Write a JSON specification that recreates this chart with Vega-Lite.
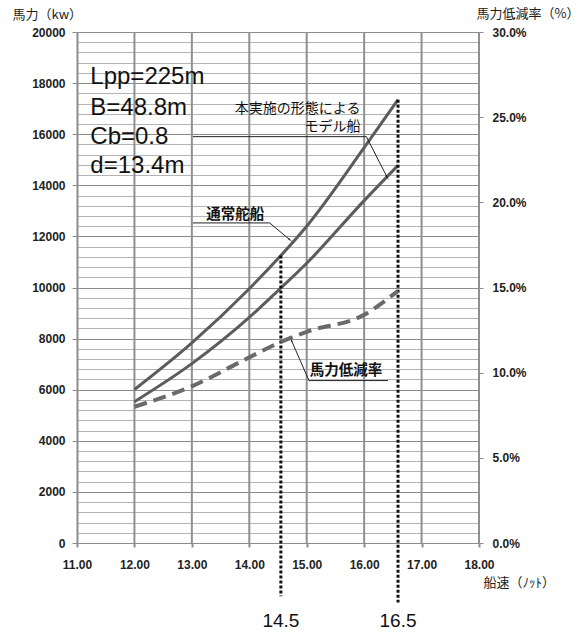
{
  "$schema": "https://vega.github.io/schema/vega-lite/v6.json",
  "width": 402,
  "height": 511,
  "autosize": {"type": "none"},
  "padding": {"left": 77, "top": 32, "right": 107, "bottom": 96},
  "background": "white",
  "config": {
    "view": {"stroke": null},
    "axis": {
      "labelFont": "Liberation Sans",
      "labelFontWeight": "bold",
      "labelFontSize": 12,
      "labelColor": "#222222",
      "titleFont": "Noto Sans CJK JP",
      "titleFontWeight": "normal",
      "titleFontSize": 13,
      "titleColor": "#222222"
    }
  },
  "datasets": {
    "power": [
      {"speed": 12, "kw": 6006, "ship": "通常舵船"},
      {"speed": 13, "kw": 7832, "ship": "通常舵船"},
      {"speed": 14, "kw": 9950, "ship": "通常舵船"},
      {"speed": 14.55, "kw": 11250, "ship": "通常舵船"},
      {"speed": 15, "kw": 12400, "ship": "通常舵船"},
      {"speed": 16, "kw": 15470, "ship": "通常舵船"},
      {"speed": 16.59, "kw": 17351, "ship": "通常舵船"},
      {"speed": 12, "kw": 5530, "ship": "モデル船"},
      {"speed": 13, "kw": 7020, "ship": "モデル船"},
      {"speed": 14, "kw": 8830, "ship": "モデル船"},
      {"speed": 14.55, "kw": 9980, "ship": "モデル船"},
      {"speed": 15, "kw": 10950, "ship": "モデル船"},
      {"speed": 16, "kw": 13400, "ship": "モデル船"},
      {"speed": 16.59, "kw": 14780, "ship": "モデル船"}
    ],
    "rate": [
      {"speed": 12, "rate": 0.080},
      {"speed": 13, "rate": 0.092},
      {"speed": 14, "rate": 0.109},
      {"speed": 14.55, "rate": 0.118},
      {"speed": 15, "rate": 0.124},
      {"speed": 16, "rate": 0.134},
      {"speed": 16.59, "rate": 0.148}
    ],
    "knots": [
      {"speed": 12}, {"speed": 13}, {"speed": 14}, {"speed": 15},
      {"speed": 16}, {"speed": 17}, {"speed": 18}
    ],
    "marks": [
      {"speed": 14.55, "kw": 11250, "kw2": -2080, "label": "14.5", "ly": -3050},
      {"speed": 16.59, "kw": 17351, "kw2": -2330, "label": "16.5", "ly": -3050}
    ],
    "specs": [
      {"speed": 11.232, "kw": 18251, "label": "Lpp=225m"},
      {"speed": 11.232, "kw": 17040, "label": "B=48.8m"},
      {"speed": 11.232, "kw": 15900, "label": "Cb=0.8"},
      {"speed": 11.232, "kw": 14770, "label": "d=13.4m"}
    ],
    "modelText": [
      {"speed": 15.935, "kw": 17000, "label": "本実施の形態による"},
      {"speed": 15.935, "kw": 16268, "label": "モデル船"}
    ],
    "boldText": [
      {"speed": 13.252, "kw": 12852, "label": "通常舵船"},
      {"speed": 15.052, "kw": 6721, "label": "馬力低減率"}
    ],
    "leaders": [
      {"id": "model", "ord": 1, "speed": 13.019, "kw": 15904},
      {"id": "model", "ord": 2, "speed": 16.039, "kw": 15904},
      {"id": "model", "ord": 3, "speed": 16.398, "kw": 14327},
      {"id": "normal", "ord": 1, "speed": 13.019, "kw": 12527},
      {"id": "normal", "ord": 2, "speed": 14.355, "kw": 12527},
      {"id": "normal", "ord": 3, "speed": 14.703, "kw": 11874},
      {"id": "rate", "ord": 1, "speed": 16.416, "kw": 6357},
      {"id": "rate", "ord": 2, "speed": 15.039, "kw": 6357},
      {"id": "rate", "ord": 3, "speed": 14.733, "kw": 7934}
    ],
    "tips": [
      {"id": "model", "speed": 16.398, "kw": 14327},
      {"id": "normal", "speed": 14.703, "kw": 11874},
      {"id": "rate", "speed": 14.733, "kw": 7934}
    ]
  },
  "encoding": {
    "x": {
      "field": "speed",
      "type": "quantitative",
      "scale": {"domain": [11, 18], "nice": false, "zero": false},
      "axis": {
        "values": [11, 12, 13, 14, 15, 16, 17, 18],
        "format": ".2f",
        "title": "船速（ﾉｯﾄ）",
        "titleX": 406,
        "titleY": 39,
        "titleAlign": "left",
        "titleBaseline": "middle",
        "grid": false,
        "labelFlush": false,
        "domainColor": "#8c8c8c",
        "tickColor": "#8c8c8c",
        "tickSize": 4,
        "tickWidth": 2,
        "labelPadding": 12
      }
    }
  },
  "layer": [
    {
      "data": {"name": "knots"},
      "mark": {"type": "rule", "stroke": "#909090", "strokeWidth": 2}
    },
    {
      "encoding": {
        "y": {
          "field": "kw",
          "type": "quantitative",
          "scale": {"domain": [0, 20000], "nice": false},
          "axis": {
            "values": [0,400,800,1200,1600,2000,2400,2800,3200,3600,4000,4400,4800,5200,5600,6000,6400,6800,7200,7600,8000,8400,8800,9200,9600,10000,10400,10800,11200,11600,12000,12400,12800,13200,13600,14000,14400,14800,15200,15600,16000,16400,16800,17200,17600,18000,18400,18800,19200,19600,20000],
            "format": "d",
            "labelExpr": "datum.value % 2000 === 0 ? datum.label : ''",
            "title": "馬力（kw）",
            "titleAngle": 0,
            "titleX": -65,
            "titleY": -18,
            "titleAlign": "left",
            "titleBaseline": "middle",
            "grid": true,
            "gridColor": {"condition": {"test": "datum.value % 2000 === 0", "value": "#8c8c8c"}, "value": "#b4b4b4"},
            "tickOpacity": {"condition": {"test": "datum.value % 2000 === 0", "value": 1}, "value": 0},
            "domainColor": "#8c8c8c",
            "domainWidth": 2,
            "tickColor": "#8c8c8c",
            "tickSize": 5,
            "labelPadding": 7
          }
        }
      },
      "layer": [
        {
          "data": {"name": "power"},
          "mark": {"type": "line", "interpolate": "monotone", "color": "#5c5c5c", "strokeWidth": 3},
          "encoding": {"detail": {"field": "ship"}}
        },
        {
          "data": {"name": "marks"},
          "mark": {"type": "rule", "color": "#111111", "strokeWidth": 3, "strokeDash": [3, 2]},
          "encoding": {"y2": {"field": "kw2"}}
        },
        {
          "data": {"name": "marks"},
          "mark": {"type": "text", "font": "Liberation Sans", "fontSize": 19, "align": "center", "baseline": "middle", "color": "#111111"},
          "encoding": {"y": {"field": "ly", "type": "quantitative"}, "text": {"field": "label"}}
        },
        {
          "data": {"name": "specs"},
          "mark": {"type": "text", "font": "Liberation Sans", "fontSize": 24, "align": "left", "baseline": "middle", "color": "#111111"},
          "encoding": {"text": {"field": "label"}}
        },
        {
          "data": {"name": "modelText"},
          "mark": {"type": "text", "font": "Noto Sans CJK JP", "fontSize": 14, "align": "right", "baseline": "middle", "color": "#111111"},
          "encoding": {"text": {"field": "label"}}
        },
        {
          "data": {"name": "boldText"},
          "mark": {"type": "text", "font": "Noto Sans CJK JP", "fontSize": 14.5, "fontWeight": "bold", "align": "left", "baseline": "middle", "color": "#111111"},
          "encoding": {"text": {"field": "label"}}
        },
        {
          "data": {"name": "leaders"},
          "mark": {"type": "line", "color": "#222222", "strokeWidth": 1},
          "encoding": {"detail": {"field": "id"}, "order": {"field": "ord", "type": "quantitative"}}
        },
        {
          "data": {"name": "tips"},
          "transform": [{"filter": "datum.id === 'model'"}],
          "mark": {"type": "point", "shape": "wedge", "filled": true, "color": "#222222", "size": 40, "angle": 153, "opacity": 1}
        },
        {
          "data": {"name": "tips"},
          "transform": [{"filter": "datum.id === 'normal'"}],
          "mark": {"type": "point", "shape": "wedge", "filled": true, "color": "#222222", "size": 40, "angle": 130, "opacity": 1}
        },
        {
          "data": {"name": "tips"},
          "transform": [{"filter": "datum.id === 'rate'"}],
          "mark": {"type": "point", "shape": "wedge", "filled": true, "color": "#222222", "size": 40, "angle": 336, "opacity": 1}
        }
      ]
    },
    {
      "data": {"name": "rate"},
      "mark": {"type": "line", "interpolate": "monotone", "color": "#6a6a6a", "strokeWidth": 4, "strokeDash": [13, 7]},
      "encoding": {
        "y": {
          "field": "rate",
          "type": "quantitative",
          "scale": {"domain": [0, 0.3], "nice": false},
          "axis": {
            "orient": "right",
            "values": [0, 0.05, 0.1, 0.15, 0.2, 0.25, 0.3],
            "format": ".1%",
            "title": "馬力低減率（%）",
            "titleAngle": 0,
            "titleX": -3,
            "titleY": -19,
            "titleAlign": "left",
            "titleBaseline": "middle",
            "grid": false,
            "domainColor": "#8c8c8c",
            "tickColor": "#8c8c8c",
            "tickSize": 4,
            "labelPadding": 9
          }
        }
      }
    }
  ],
  "resolve": {"scale": {"y": "independent"}}
}
